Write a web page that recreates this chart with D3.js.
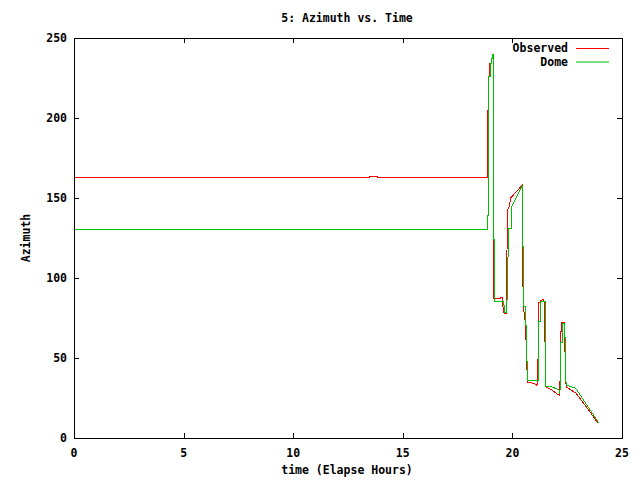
<!DOCTYPE html>
<html>
<head>
<meta charset="utf-8">
<script src="https://cdn.jsdelivr.net/npm/d3@7"></script>
<style>
  body { margin: 0; background: #fff; }
  text { font-family: "DejaVu Sans Mono", monospace; font-size: 11.5px; font-weight: bold; fill: #000; }
</style>
</head>
<body>
<div id="container"></div>
<script>
	var WIDTH = 640;
	var HEIGHT = 480;

	var title = "5: Azimuth vs. Time";
	var xLabel = "time (Elapse Hours)";
	var yLabel = "Azimuth";
	var xTicks = [0, 5, 10, 15, 20, 25];
	var yTicks = [0, 50, 100, 150, 200, 250];
	var seriesNames = ["Observed", "Dome"];
	var seriesColors = ["#ff0000", "#00c000"];

	// observed azimuth, [hours, degrees]
	var observed = [
		[0,163],[13.46,163],[13.46,163.7],[13.85,163.7],[13.85,163],[18.86,163],
		[18.86,177],[18.88,177],[18.88,205],[18.92,205],[18.92,226],[18.97,226],
		[18.97,234],[19.03,234],[19.03,237],[19.07,237],[19.07,240],[19.12,240],
		[19.12,124],[19.16,124],[19.16,87],[19.45,87],[19.45,88],[19.55,88],
		[19.58,80],[19.62,78],[19.74,78],[19.74,95],[19.77,142],[19.86,145],
		[19.92,150],[20.45,158],[20.45,120],[20.5,82],[20.6,71],[20.65,48],
		[20.69,35],[21.0,34],[21.1,33],[21.15,34],[21.15,48],[21.2,52],
		[21.2,85],[21.26,85],[21.26,86],[21.44,86.5],[21.49,59],[21.52,32],
		[21.8,30],[22.1,27],[22.17,26.5],[22.18,60],[22.25,72],[22.37,72],
		[22.41,48],[22.45,32],[22.9,28],[23.4,19],[23.92,9]
	];

	// dome azimuth, [hours, degrees]
	var dome = [
		[0,130.4],[18.88,130.4],[18.9,153],[18.9,226],[18.99,226],[18.99,234],
		[19.04,234],[19.04,237],[19.08,237],[19.08,240],[19.13,240],[19.13,124],
		[19.17,124],[19.17,85.6],[19.59,85.6],[19.59,83],[19.63,83],[19.63,78.5],
		[19.72,78.5],[19.79,94.6],[19.81,131],[19.94,131],[19.94,144],[20.45,158],
		[20.45,120],[20.5,120],[20.5,82],[20.61,82],[20.61,70.6],[20.65,70.6],
		[20.65,48],[20.7,48],[20.7,36],[21.18,36],[21.21,72.7],[21.29,72.7],
		[21.29,85.6],[21.49,85.6],[21.49,59],[21.52,59],[21.52,32],[21.79,32],
		[22.13,30],[22.17,27.3],[22.2,60],[22.28,60],[22.28,71.7],[22.37,71.7],
		[22.37,63],[22.43,63],[22.43,36],[22.48,33],[22.89,31],[23.96,9]
	];

	var margin = {left: 74, right: 18, top: 38, bottom: 42};
	var w = WIDTH - margin.left - margin.right;
	var h = HEIGHT - margin.top - margin.bottom;

	var svg = d3.select('#container').append('svg')
		.attr('width', WIDTH)
		.attr('height', HEIGHT);

	var x = d3.scaleLinear().domain([0, 25]).range([0, w]);
	var y = d3.scaleLinear().domain([0, 250]).range([h, 0]);

	var g = svg.append('g').attr('transform', 'translate(' + margin.left + ',' + margin.top + ')');

	// ticks on all four sides, pointing inward
	var tickLen = 5;
	g.append('g').selectAll('line.xb').data(xTicks).enter().append('line')
		.attr('x1', function(d){ return Math.round(x(d)) + 0.5; })
		.attr('x2', function(d){ return Math.round(x(d)) + 0.5; })
		.attr('y1', h).attr('y2', h - tickLen)
		.style('stroke', '#000');
	g.append('g').selectAll('line.xt').data(xTicks).enter().append('line')
		.attr('x1', function(d){ return Math.round(x(d)) + 0.5; })
		.attr('x2', function(d){ return Math.round(x(d)) + 0.5; })
		.attr('y1', 0).attr('y2', tickLen)
		.style('stroke', '#000');
	g.append('g').selectAll('line.yl').data(yTicks).enter().append('line')
		.attr('y1', function(d){ return Math.round(y(d)) + 0.5; })
		.attr('y2', function(d){ return Math.round(y(d)) + 0.5; })
		.attr('x1', 0).attr('x2', tickLen)
		.style('stroke', '#000');
	g.append('g').selectAll('line.yr').data(yTicks).enter().append('line')
		.attr('y1', function(d){ return Math.round(y(d)) + 0.5; })
		.attr('y2', function(d){ return Math.round(y(d)) + 0.5; })
		.attr('x1', w).attr('x2', w - tickLen)
		.style('stroke', '#000');

	// tick labels
	g.selectAll('text.xl').data(xTicks).enter().append('text')
		.attr('x', function(d){ return x(d); })
		.attr('y', h + 19)
		.attr('text-anchor', 'middle')
		.text(function(d){ return d; });
	g.selectAll('text.yl').data(yTicks).enter().append('text')
		.attr('x', -7)
		.attr('y', function(d){ return y(d) + 4; })
		.attr('text-anchor', 'end')
		.text(function(d){ return d; });

	// series
	var line = d3.line()
		.x(function(d){ return x(d[0]); })
		.y(function(d){ return y(d[1]); });

	[observed, dome].forEach(function(s, i){
		g.append('path')
			.datum(s)
			.attr('d', line)
			.style('fill', 'none')
			.style('stroke', seriesColors[i])
			.style('stroke-width', 1)
			.style('shape-rendering', 'crispEdges');
	});

	// border
	g.append('rect')
		.attr('x', 0.5).attr('y', 0.5)
		.attr('width', w).attr('height', h)
		.style('fill', 'none')
		.style('stroke', '#000')
		.style('shape-rendering', 'crispEdges');

	// legend
	seriesNames.forEach(function(name, i){
		var ly = 48 + i * 13.5;
		svg.append('text')
			.attr('x', 568).attr('y', ly + 4)
			.attr('text-anchor', 'end')
			.text(name);
		svg.append('line')
			.attr('x1', 576).attr('x2', 609)
			.attr('y1', ly + 0.5).attr('y2', ly + 0.5)
			.style('stroke', seriesColors[i]);
	});

	// titles
	svg.append('text')
		.attr('x', 347).attr('y', 22)
		.attr('text-anchor', 'middle')
		.text(title);
	svg.append('text')
		.attr('x', 347).attr('y', 474)
		.attr('text-anchor', 'middle')
		.text(xLabel);
	svg.append('text')
		.attr('transform', 'translate(30,238) rotate(-90)')
		.attr('text-anchor', 'middle')
		.text(yLabel);
</script>
</body>
</html>
